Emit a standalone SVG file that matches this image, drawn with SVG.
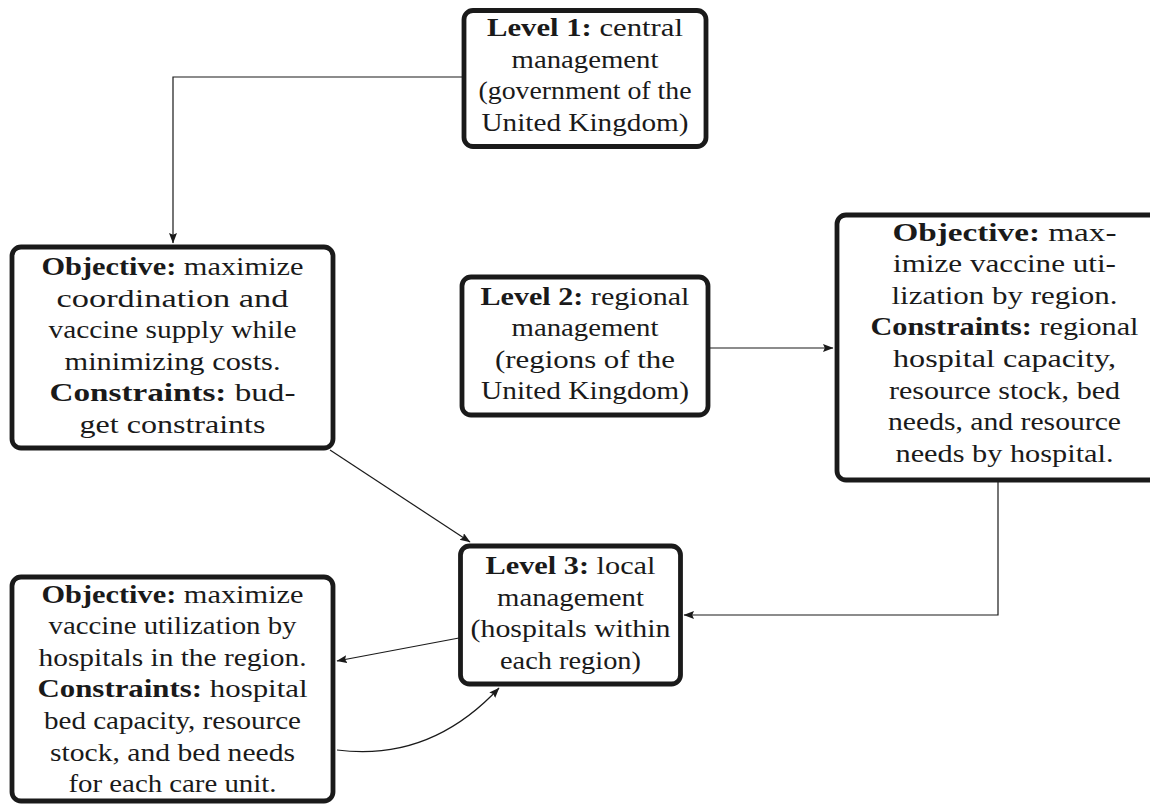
<svg xmlns="http://www.w3.org/2000/svg" width="1150" height="805" viewBox="0 0 1150 805">
<style>
.box{fill:#fff;stroke:#1a1a1a;stroke-width:4.8}
.t{font-family:'Liberation Serif','DejaVu Serif',serif;font-size:26px;fill:#1a1a1a;text-anchor:middle}
.b{font-weight:bold}
.c{fill:none;stroke:#1a1a1a;stroke-width:1.2}
</style>
<defs>
<marker id="ah" markerUnits="userSpaceOnUse" markerWidth="11" markerHeight="9" refX="10" refY="4" orient="auto">
<path d="M0,0 L10.5,4 L0,8 L1.8,4 Z" fill="#1a1a1a"/>
</marker>
</defs>
<rect width="1150" height="805" fill="#fff"/>
<g id="connectors">
<path class="c" d="M462,77 H173 V243" marker-end="url(#ah)"/>
<path class="c" d="M710,348 H833" marker-end="url(#ah)"/>
<path class="c" d="M998,482 V615 H684" marker-end="url(#ah)"/>
<path class="c" d="M330,450 L470,542" marker-end="url(#ah)"/>
<path class="c" d="M459,638 L337,661" marker-end="url(#ah)"/>
<path class="c" d="M337,750 Q430,762 499,688" marker-end="url(#ah)"/>
</g>
<g id="level1">
<rect class="box" x="464" y="10.5" width="242" height="136" rx="9"/>
<text class="t" x="585" y="36" textLength="196" lengthAdjust="spacingAndGlyphs"><tspan class="b">Level 1:</tspan> central</text>
<text class="t" x="585" y="67.6" textLength="147" lengthAdjust="spacingAndGlyphs">management</text>
<text class="t" x="585" y="99.2" textLength="213" lengthAdjust="spacingAndGlyphs">(government of the</text>
<text class="t" x="585" y="130.8" textLength="207" lengthAdjust="spacingAndGlyphs">United Kingdom)</text>
</g>
<g id="objective-central">
<rect class="box" x="12" y="247" width="321" height="201" rx="9"/>
<text class="t" x="172.5" y="275" textLength="262" lengthAdjust="spacingAndGlyphs"><tspan class="b">Objective:</tspan> maximize</text>
<text class="t" x="172.5" y="306.6" textLength="232" lengthAdjust="spacingAndGlyphs">coordination and</text>
<text class="t" x="172.5" y="338.2" textLength="248" lengthAdjust="spacingAndGlyphs">vaccine supply while</text>
<text class="t" x="172.5" y="369.8" textLength="216" lengthAdjust="spacingAndGlyphs">minimizing costs.</text>
<text class="t" x="172.5" y="401.4" textLength="246" lengthAdjust="spacingAndGlyphs"><tspan class="b">Constraints:</tspan> bud-</text>
<text class="t" x="172.5" y="433" textLength="186" lengthAdjust="spacingAndGlyphs">get constraints</text>
</g>
<g id="objective-regional">
<rect class="box" x="837" y="215" width="335" height="265" rx="9"/>
<text class="t" x="1004.5" y="240.5" textLength="224" lengthAdjust="spacingAndGlyphs"><tspan class="b">Objective:</tspan> max-</text>
<text class="t" x="1004.5" y="272.1" textLength="223" lengthAdjust="spacingAndGlyphs">imize vaccine uti-</text>
<text class="t" x="1004.5" y="303.7" textLength="226" lengthAdjust="spacingAndGlyphs">lization by region.</text>
<text class="t" x="1004.5" y="335.3" textLength="268" lengthAdjust="spacingAndGlyphs"><tspan class="b">Constraints:</tspan> regional</text>
<text class="t" x="1004.5" y="366.9" textLength="223" lengthAdjust="spacingAndGlyphs">hospital capacity,</text>
<text class="t" x="1004.5" y="398.5" textLength="231" lengthAdjust="spacingAndGlyphs">resource stock, bed</text>
<text class="t" x="1004.5" y="430.1" textLength="233" lengthAdjust="spacingAndGlyphs">needs, and resource</text>
<text class="t" x="1004.5" y="461.7" textLength="218" lengthAdjust="spacingAndGlyphs">needs by hospital.</text>
</g>
<g id="level2">
<rect class="box" x="462" y="277" width="246" height="138" rx="9"/>
<text class="t" x="585" y="304.5" textLength="209" lengthAdjust="spacingAndGlyphs"><tspan class="b">Level 2:</tspan> regional</text>
<text class="t" x="585" y="336.1" textLength="147" lengthAdjust="spacingAndGlyphs">management</text>
<text class="t" x="585" y="367.7" textLength="180" lengthAdjust="spacingAndGlyphs">(regions of the</text>
<text class="t" x="585" y="399.3" textLength="208" lengthAdjust="spacingAndGlyphs">United Kingdom)</text>
</g>
<g id="level3">
<rect class="box" x="460.5" y="546" width="220" height="138" rx="9"/>
<text class="t" x="570.5" y="574" textLength="170" lengthAdjust="spacingAndGlyphs"><tspan class="b">Level 3:</tspan> local</text>
<text class="t" x="570.5" y="605.6" textLength="147" lengthAdjust="spacingAndGlyphs">management</text>
<text class="t" x="570.5" y="637.2" textLength="200" lengthAdjust="spacingAndGlyphs">(hospitals within</text>
<text class="t" x="570.5" y="668.8" textLength="141" lengthAdjust="spacingAndGlyphs">each region)</text>
</g>
<g id="objective-local">
<rect class="box" x="12" y="577" width="321" height="224" rx="9"/>
<text class="t" x="172.5" y="602.5" textLength="262" lengthAdjust="spacingAndGlyphs"><tspan class="b">Objective:</tspan> maximize</text>
<text class="t" x="172.5" y="634.1" textLength="248" lengthAdjust="spacingAndGlyphs">vaccine utilization by</text>
<text class="t" x="172.5" y="665.7" textLength="268" lengthAdjust="spacingAndGlyphs">hospitals in the region.</text>
<text class="t" x="172.5" y="697.3" textLength="270" lengthAdjust="spacingAndGlyphs"><tspan class="b">Constraints:</tspan> hospital</text>
<text class="t" x="172.5" y="728.9" textLength="257" lengthAdjust="spacingAndGlyphs">bed capacity, resource</text>
<text class="t" x="172.5" y="760.5" textLength="245" lengthAdjust="spacingAndGlyphs">stock, and bed needs</text>
<text class="t" x="172.5" y="792.1" textLength="208" lengthAdjust="spacingAndGlyphs">for each care unit.</text>
</g>
</svg>
